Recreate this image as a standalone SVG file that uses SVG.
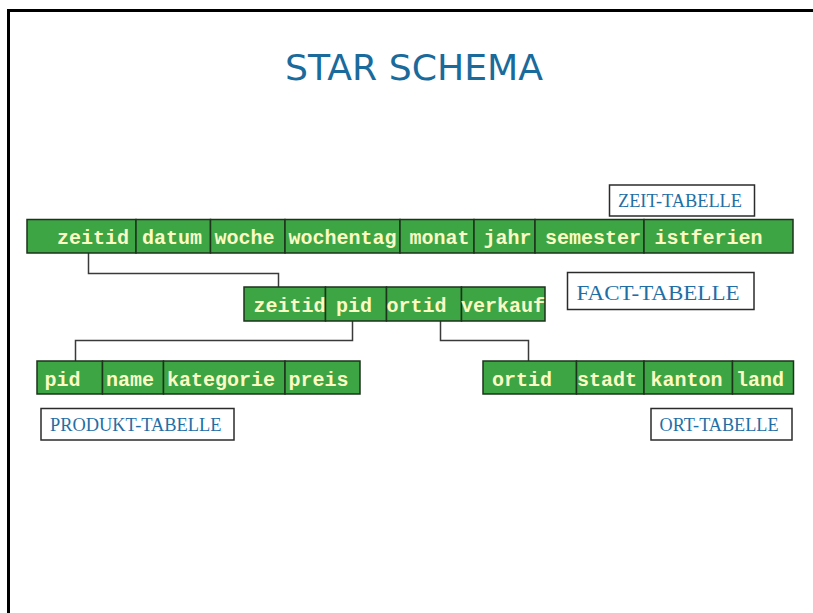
<svg xmlns="http://www.w3.org/2000/svg" width="813" height="613" viewBox="0 0 813 613">
  <style>
    .cell { fill: #3ea544; stroke: #1c331c; stroke-width: 1.5; }
    .fld { font-family: "Liberation Mono", "Courier New", monospace; font-weight: bold; font-size: 20px; fill: #fbfbc4; }
    .cap { fill: #ffffff; stroke: #2b2b2b; stroke-width: 1.5; }
    .capt { font-family: "Liberation Serif", "Times New Roman", serif; fill: #1f6fa6; }
    .link { fill: none; stroke: #3a3a3a; stroke-width: 1.5; }
  </style>
  <rect width="813" height="613" fill="#ffffff"/>
  <!-- page frame -->
  <path d="M8.5 613 V10.5 H813" fill="none" stroke="#000" stroke-width="3"/>

  <text x="414" y="80" text-anchor="middle" font-family="'Comic Sans MS', 'DejaVu Sans', sans-serif" font-size="35" fill="#1b6a9c" textLength="258" lengthAdjust="spacingAndGlyphs">STAR SCHEMA</text>

  <!-- connectors -->
  <g id="connectors">
    <path class="link" d="M88.5 253 V273.5 H278.5 V287"/>
    <path class="link" d="M352.5 321 V340.5 H75.5 V361"/>
    <path class="link" d="M440.5 321 V340.5 H528.5 V361"/>
  </g>

  <!-- time dimension -->
  <g id="zeit-tabelle">
    <rect class="cell" x="27" y="219.5" width="109" height="33.5"/>
    <rect class="cell" x="136" y="219.5" width="74.5" height="33.5"/>
    <rect class="cell" x="210.5" y="219.5" width="74.5" height="33.5"/>
    <rect class="cell" x="285" y="219.5" width="115" height="33.5"/>
    <rect class="cell" x="400" y="219.5" width="74" height="33.5"/>
    <rect class="cell" x="474" y="219.5" width="61" height="33.5"/>
    <rect class="cell" x="535" y="219.5" width="109" height="33.5"/>
    <rect class="cell" x="644" y="219.5" width="149" height="33.5"/>
    <text class="fld" x="57" y="244">zeitid</text>
    <text class="fld" x="142" y="244">datum</text>
    <text class="fld" x="214.5" y="244">woche</text>
    <text class="fld" x="288.5" y="244">wochentag</text>
    <text class="fld" x="409.5" y="244">monat</text>
    <text class="fld" x="483.5" y="244">jahr</text>
    <text class="fld" x="545" y="244">semester</text>
    <text class="fld" x="654.5" y="244">istferien</text>
  </g>
  <g id="zeit-label">
    <rect class="cap" x="609.5" y="185" width="145" height="31"/>
    <text class="capt" x="618" y="206.5" font-size="18" textLength="124" lengthAdjust="spacingAndGlyphs">ZEIT-TABELLE</text>
  </g>

  <!-- fact table -->
  <g id="fact-tabelle">
    <rect class="cell" x="244" y="287" width="81.5" height="34"/>
    <rect class="cell" x="325.5" y="287" width="61" height="34"/>
    <rect class="cell" x="386.5" y="287" width="75" height="34"/>
    <rect class="cell" x="461.5" y="287" width="83.5" height="34"/>
    <text class="fld" x="253.5" y="311.5">zeitid</text>
    <text class="fld" x="336" y="311.5">pid</text>
    <text class="fld" x="386.5" y="311.5">ortid</text>
    <text class="fld" x="461" y="311.5" font-size="17.5">verkauf</text>
  </g>
  <g id="fact-label">
    <rect class="cap" x="567.5" y="272.5" width="186.5" height="37"/>
    <text class="capt" x="576.5" y="299.5" font-size="22" textLength="163" lengthAdjust="spacingAndGlyphs">FACT-TABELLE</text>
  </g>

  <!-- product dimension -->
  <g id="produkt-tabelle">
    <rect class="cell" x="37" y="361" width="65.5" height="33"/>
    <rect class="cell" x="102.5" y="361" width="61" height="33"/>
    <rect class="cell" x="163.5" y="361" width="121.5" height="33"/>
    <rect class="cell" x="285" y="361" width="75" height="33"/>
    <text class="fld" x="44.5" y="386">pid</text>
    <text class="fld" x="106" y="386">name</text>
    <text class="fld" x="167" y="386">kategorie</text>
    <text class="fld" x="288.5" y="386">preis</text>
  </g>
  <g id="produkt-label">
    <rect class="cap" x="41" y="408.5" width="193" height="31.5"/>
    <text class="capt" x="50" y="430.5" font-size="18" textLength="171.5" lengthAdjust="spacingAndGlyphs">PRODUKT-TABELLE</text>
  </g>

  <!-- location dimension -->
  <g id="ort-tabelle">
    <rect class="cell" x="483" y="361" width="93.5" height="33"/>
    <rect class="cell" x="576.5" y="361" width="67.5" height="33"/>
    <rect class="cell" x="644" y="361" width="88.5" height="33"/>
    <rect class="cell" x="732.5" y="361" width="61" height="33"/>
    <text class="fld" x="492" y="385.5">ortid</text>
    <text class="fld" x="577" y="385.5">stadt</text>
    <text class="fld" x="650.5" y="385.5">kanton</text>
    <text class="fld" x="736" y="385.5">land</text>
  </g>
  <g id="ort-label">
    <rect class="cap" x="651" y="408.5" width="141" height="31.5"/>
    <text class="capt" x="659.5" y="430.5" font-size="18" textLength="119" lengthAdjust="spacingAndGlyphs">ORT-TABELLE</text>
  </g>
</svg>
